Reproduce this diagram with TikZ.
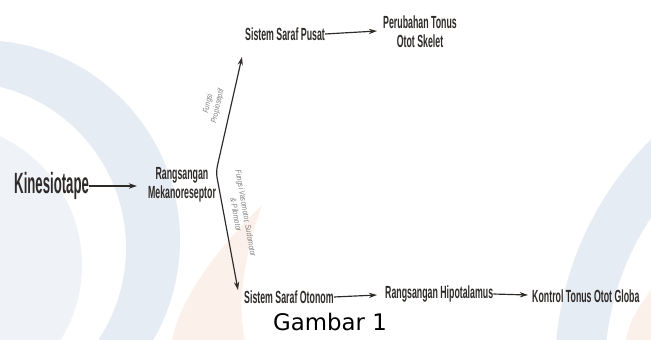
\documentclass[tikz,border=0pt]{standalone}
\usepackage{fontspec}
\usetikzlibrary{arrows.meta}
\newfontfamily\condfont[FakeStretch=0.5]{Liberation Sans Bold}
\newfontfamily\kinfont[FakeStretch=0.45]{Liberation Sans Bold}
\newfontfamily\sidefont[FakeStretch=0.8]{Liberation Sans}
\newfontfamily\gbrfont{DejaVu Sans}
\definecolor{inkgray}{HTML}{2E2A28}
\definecolor{wmblue}{HTML}{E6ECF3}
\definecolor{wmlight}{HTML}{EFF3F8}
\definecolor{wmorange}{HTML}{FCF1EA}
\begin{document}
\begin{tikzpicture}[x=0.03cm,y=-0.03cm,
		lbl/.style={inner sep=0pt,text=inkgray,font=\condfont\fontsize{15}{16.5}\selectfont,align=center},
		side/.style={inner sep=0pt,text=gray,font=\sidefont\itshape\fontsize{7}{8.5}\selectfont,align=center},
		arr/.style={draw=inkgray,line width=1pt,-{Stealth[length=7pt,width=4.5pt]}}
	]
	\useasboundingbox (0,0) rectangle (651,340);
	% watermark
	\begin{scope}
		\clip (0,0) rectangle (651,340);
		\fill[wmblue,even odd rule] (-20,240) circle (200) (-40,248) circle (166);
		\fill[wmlight] (-60,265) circle (142);
		\fill[wmblue,even odd rule] (880,370) circle (325) (880,370) circle (275);
		\fill[wmorange] (262,205) .. controls (215,250) and (180,300) .. (172,340) -- (245,340) .. controls (236,300) and (246,250) .. (262,205);
		\fill[wmorange] (651,290) .. controls (636,310) and (628,325) .. (626,340) -- (651,340) -- cycle;
	\end{scope}
	% nodes
	\node[lbl,font=\kinfont\fontsize{25}{27}\selectfont,anchor=west] (kin) at (14,186) {Kinesiotape};
	\node[lbl] (rm) at (182,185) {Rangsangan\\Mekanoreseptor};
	\node[lbl,anchor=west] (ssp) at (245,34) {Sistem Saraf Pusat};
	\node[lbl] (pts) at (420,32) {Perubahan Tonus\\Otot Skelet};
	\node[lbl,anchor=west] (sso) at (244,297) {Sistem Saraf Otonom};
	\node[lbl,anchor=west] (rh) at (385,294) {Rangsangan Hipotalamus};
	\node[lbl,anchor=west] (ktg) at (532,296) {Kontrol Tonus Otot Globa};
	\node[inner sep=0pt,text=black,font=\gbrfont\fontsize{19.5}{21}\selectfont] (gbr) at (330,322) {Gambar 1};
	\coordinate (tip) at (216,172);
	\coordinate (up) at (242,57);
	\coordinate (dn) at (238,290);
	% connectors
	\draw[arr] (kin.east) -- (137,186);
	\draw[arr,{Stealth[length=7pt,width=4.5pt]}-{Stealth[length=7pt,width=4.5pt]},rounded corners=5] (up) -- (tip) -- (dn);
	\draw[arr] (ssp.east) -- (377,31);
	\draw[arr] (sso.east) -- (377,295);
	\draw[arr] (rh.east) -- (528,295);
	% branch labels
	\node[side,rotate=77.5] (fp) at (213,105) {Fungsi\\Propioseptif};
	\node[side,rotate=-80] (fv) at (241,214) {Fungsi Vasomotor, Sudomotor\\\& Pilomotor};
\end{tikzpicture}
\end{document}
